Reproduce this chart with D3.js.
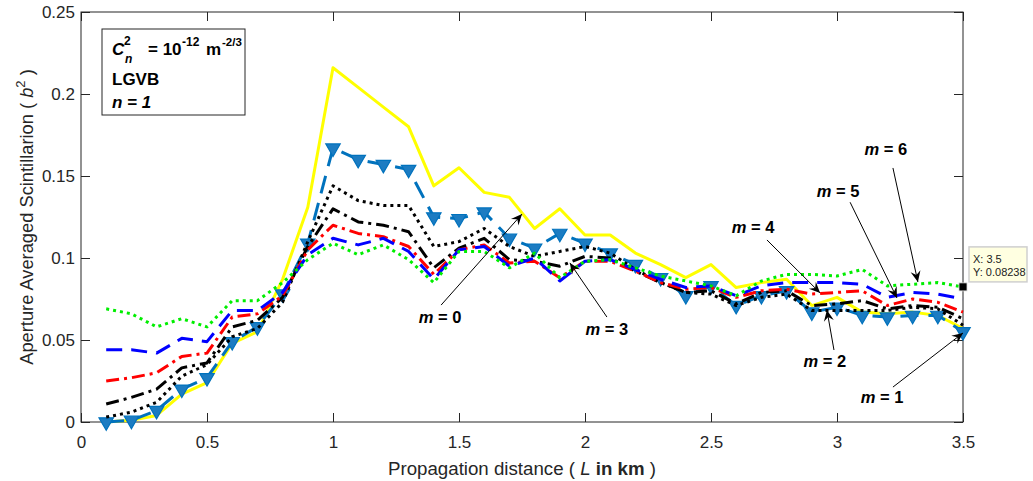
<!DOCTYPE html>
<html>
<head>
<meta charset="utf-8">
<script src="https://cdn.jsdelivr.net/npm/d3@7"></script>
<style>
  body { margin: 0; background: #fff; }
  svg { display: block; font-family: "Liberation Sans", Arial, Helvetica, sans-serif; }
</style>
</head>
<body>
<main></main>
<script>
// propagation distance L (km)
const distances = [0.1, 0.2, 0.3, 0.4, 0.5, 0.6, 0.7, 0.8, 0.9, 1.0,
  1.1, 1.2, 1.3, 1.4, 1.5, 1.6, 1.7, 1.8, 1.9, 2.0,
  2.1, 2.2, 2.3, 2.4, 2.5, 2.6, 2.7, 2.8, 2.9, 3.0,
  3.1, 3.2, 3.3, 3.4, 3.5];

// aperture averaged scintillation per mode m
const m0 = [0.000, 0.001, 0.004, 0.017, 0.024, 0.048, 0.055, 0.087, 0.131, 0.216,
  0.204, 0.192, 0.180, 0.144, 0.155, 0.140, 0.137, 0.118, 0.130, 0.114,
  0.114, 0.103, 0.096, 0.088, 0.096, 0.082, 0.085, 0.087, 0.071, 0.076,
  0.067, 0.066, 0.067, 0.065, 0.057];
const m1 = [0.000, 0.001, 0.007, 0.020, 0.027, 0.049, 0.058, 0.078, 0.109, 0.167,
  0.160, 0.157, 0.154, 0.125, 0.124, 0.128, 0.112, 0.106, 0.115, 0.109,
  0.103, 0.096, 0.088, 0.077, 0.083, 0.071, 0.077, 0.080, 0.067, 0.070,
  0.065, 0.064, 0.065, 0.065, 0.055];
const m2 = [0.003, 0.006, 0.012, 0.028, 0.035, 0.052, 0.057, 0.073, 0.110, 0.144,
  0.135, 0.132, 0.132, 0.107, 0.110, 0.118, 0.107, 0.101, 0.104, 0.107,
  0.103, 0.093, 0.085, 0.079, 0.078, 0.071, 0.076, 0.078, 0.068, 0.068,
  0.068, 0.068, 0.070, 0.069, 0.059];
const m3 = [0.011, 0.015, 0.020, 0.033, 0.036, 0.058, 0.062, 0.076, 0.107, 0.130,
  0.122, 0.120, 0.116, 0.094, 0.106, 0.112, 0.099, 0.098, 0.095, 0.101,
  0.100, 0.092, 0.085, 0.079, 0.080, 0.072, 0.079, 0.080, 0.071, 0.072,
  0.074, 0.069, 0.071, 0.070, 0.063];
const m4 = [0.025, 0.027, 0.030, 0.040, 0.042, 0.064, 0.066, 0.077, 0.105, 0.120,
  0.115, 0.113, 0.107, 0.090, 0.105, 0.108, 0.097, 0.098, 0.088, 0.098,
  0.098, 0.092, 0.085, 0.081, 0.082, 0.076, 0.080, 0.081, 0.078, 0.079,
  0.080, 0.071, 0.075, 0.073, 0.067];
const m5 = [0.044, 0.044, 0.042, 0.051, 0.049, 0.068, 0.068, 0.079, 0.102, 0.112,
  0.108, 0.112, 0.104, 0.087, 0.105, 0.107, 0.095, 0.100, 0.086, 0.098,
  0.099, 0.093, 0.087, 0.082, 0.083, 0.077, 0.083, 0.085, 0.085, 0.085,
  0.084, 0.076, 0.079, 0.078, 0.075];
const m6 = [0.069, 0.066, 0.058, 0.063, 0.058, 0.074, 0.074, 0.085, 0.099, 0.109,
  0.102, 0.108, 0.099, 0.085, 0.104, 0.104, 0.094, 0.103, 0.088, 0.098,
  0.099, 0.094, 0.089, 0.086, 0.083, 0.077, 0.086, 0.090, 0.090, 0.089,
  0.093, 0.083, 0.084, 0.085, 0.08238];

const seriesValues = [m0, m1, m2, m3, m4, m5, m6];

const xTicks = [0, 0.5, 1, 1.5, 2, 2.5, 3, 3.5];
const yTicks = [0, 0.05, 0.1, 0.15, 0.2, 0.25];
const xTickLabels = ['0', '0.5', '1', '1.5', '2', '2.5', '3', '3.5'];
const yTickLabels = ['0', '0.05', '0.1', '0.15', '0.2', '0.25'];

// text arrows: tail -> tip and label anchor, in data units
const arrowMode = [0, 1, 2, 3, 4, 5, 6];
const arrowTip = [[1.750, 0.1268], [3.500, 0.0543], [2.960, 0.0683], [1.940, 0.0970],
  [2.933, 0.0787], [3.238, 0.0756], [3.321, 0.0854]];
const arrowTail = [[1.429, 0.0713], [3.222, 0.0213], [2.988, 0.0439], [2.087, 0.0640],
  [2.722, 0.1110], [3.052, 0.1340], [3.222, 0.1549]];
const arrowLabel = [[1.425, 0.0604], [3.179, 0.0116], [2.952, 0.0335], [2.087, 0.0530],
  [2.667, 0.1152], [3.004, 0.1372], [3.194, 0.1628]];

// data tip
const tipX = 3.5;
const tipY = 0.08238;

const styles = [
  { color: '#ffff00', dash: null },
  { color: '#0072bd', dash: '18,10', marker: true },
  { color: '#000000', dash: '3,4' },
  { color: '#000000', dash: '13,5,3,5' },
  { color: '#ff0000', dash: '13,5,3,5' },
  { color: '#0000ff', dash: '16,9' },
  { color: '#00ee00', dash: '3,4' }
];

const W = 1033;
const H = 481;
const margin = { top: 12, right: 70, bottom: 59, left: 81 };
const width = W - margin.left - margin.right;
const height = H - margin.top - margin.bottom;
const axisColor = '#262626';

const $svg = d3.select('main').append('svg')
  .attr('width', W)
  .attr('height', H);

const $g = $svg.append('g')
  .attr('transform', `translate(${margin.left}, ${margin.top})`);

const scaleX = d3.scaleLinear().domain([0, 3.5]).range([0, width]);
const scaleY = d3.scaleLinear().domain([0, 0.25]).range([height, 0]);

// axes, ticks inside on all four sides
function styleAxis($a) {
  $a.select('.domain').remove();
  $a.selectAll('line').attr('stroke', axisColor);
  $a.selectAll('text')
    .attr('fill', axisColor)
    .style('font-size', '17px')
    .style('font-family', '"Liberation Sans", Arial, sans-serif');
}

const $axisX = $g.append('g').attr('transform', `translate(0, ${height})`)
  .call(d3.axisBottom(scaleX).tickValues(xTicks)
    .tickFormat((d, i) => xTickLabels[i]).tickSizeInner(-9).tickSizeOuter(0).tickPadding(14));
styleAxis($axisX);

const $axisY = $g.append('g')
  .call(d3.axisLeft(scaleY).tickValues(yTicks)
    .tickFormat((d, i) => yTickLabels[i]).tickSizeInner(-9).tickSizeOuter(0).tickPadding(6));
styleAxis($axisY);

const $axisTop = $g.append('g')
  .call(d3.axisTop(scaleX).tickValues(xTicks).tickFormat('').tickSizeInner(-9).tickSizeOuter(0));
styleAxis($axisTop);

const $axisRight = $g.append('g').attr('transform', `translate(${width}, 0)`)
  .call(d3.axisRight(scaleY).tickValues(yTicks).tickFormat('').tickSizeInner(-9).tickSizeOuter(0));
styleAxis($axisRight);

$g.append('rect')
  .attr('width', width)
  .attr('height', height)
  .attr('fill', 'none')
  .attr('stroke', axisColor)
  .attr('stroke-width', 1);

// curves
const line = d3.line()
  .x((d, i) => scaleX(distances[i]))
  .y(d => scaleY(d));

const $vis = $g.append('g').attr('class', 'g-vis');

seriesValues.forEach((vals, k) => {
  const st = styles[k];
  $vis.append('path')
    .datum(vals)
    .attr('d', line)
    .attr('fill', 'none')
    .attr('stroke', st.color)
    .attr('stroke-width', 3)
    .attr('stroke-linejoin', 'round')
    .attr('stroke-dasharray', st.dash);

  if (st.marker) {
    const tri = d3.symbol().type(d3.symbolTriangle).size(90);
    $vis.selectAll('.g-marker')
      .data(vals)
      .enter()
      .append('path')
      .attr('class', 'g-marker')
      .attr('d', tri)
      .attr('transform', (d, i) => `translate(${scaleX(distances[i])}, ${scaleY(d)}) rotate(180)`)
      .attr('fill', '#1c7cc2')
      .attr('stroke', st.color)
      .attr('stroke-width', 1.2);
  }
});

// annotations
const $ann = $g.append('g').attr('class', 'g-annotations');

arrowMode.forEach((m, i) => {
  const x1 = scaleX(arrowTail[i][0]);
  const y1 = scaleY(arrowTail[i][1]);
  const x2 = scaleX(arrowTip[i][0]);
  const y2 = scaleY(arrowTip[i][1]);
  const ang = Math.atan2(y2 - y1, x2 - x1) * 180 / Math.PI;

  $ann.append('line')
    .attr('x1', x1).attr('y1', y1)
    .attr('x2', x2).attr('y2', y2)
    .attr('stroke', '#000')
    .attr('stroke-width', 1);

  $ann.append('path')
    .attr('d', 'M0,0 L-11,-5 L-7,0 L-11,5 Z')
    .attr('transform', `translate(${x2}, ${y2}) rotate(${ang})`)
    .attr('fill', '#000');

  const $t = $ann.append('text')
    .attr('x', scaleX(arrowLabel[i][0]))
    .attr('y', scaleY(arrowLabel[i][1]))
    .attr('text-anchor', 'middle')
    .attr('font-size', 16.5)
    .attr('font-weight', 'bold')
    .attr('fill', '#000');
  $t.append('tspan').attr('font-style', 'italic').text('m');
  $t.append('tspan').text(` = ${m}`);
});

// info box
const $box = $g.append('g').attr('transform', 'translate(21, 17)');
$box.append('rect')
  .attr('width', 143)
  .attr('height', 86)
  .attr('fill', '#fff')
  .attr('stroke', axisColor)
  .attr('stroke-width', 1);

const $l1 = $box.append('text')
  .attr('y', 26)
  .attr('font-size', 17)
  .attr('font-weight', 'bold')
  .attr('fill', '#000');
$l1.append('tspan').attr('x', 10).attr('font-style', 'italic').text('C');
$l1.append('tspan').attr('x', 22).attr('dy', -10).attr('font-size', 12).text('2');
$l1.append('tspan').attr('x', 23).attr('dy', 18).attr('font-size', 12).attr('font-style', 'italic').text('n');
$l1.append('tspan').attr('x', 46).attr('dy', -8).text('= 10');
$l1.append('tspan').attr('x', 80).attr('dy', -9).attr('font-size', 12).text('-12');
$l1.append('tspan').attr('x', 104).attr('dy', 9).text('m');
$l1.append('tspan').attr('x', 120).attr('dy', -9).attr('font-size', 11.5).text('-2/3');

$box.append('text')
  .attr('x', 10).attr('y', 56)
  .attr('font-size', 17)
  .attr('font-weight', 'bold')
  .text('LGVB');

$box.append('text')
  .attr('x', 10).attr('y', 79)
  .attr('font-size', 17)
  .attr('font-weight', 'bold')
  .attr('font-style', 'italic')
  .text('n = 1');

// data tip
const tx = scaleX(tipX);
const ty = scaleY(tipY);
const $tip = $g.append('g');
$tip.append('rect')
  .attr('x', tx + 6).attr('y', ty - 40)
  .attr('width', 58).attr('height', 35)
  .attr('fill', '#ffffe1')
  .attr('stroke', '#cfcfcf')
  .attr('stroke-width', 1.5);
$tip.append('text')
  .attr('x', tx + 10).attr('y', ty - 24)
  .attr('font-size', 11)
  .attr('fill', '#222')
  .text(`X: ${tipX}`);
$tip.append('text')
  .attr('x', tx + 10).attr('y', ty - 11)
  .attr('font-size', 11)
  .attr('fill', '#222')
  .text(`Y: ${tipY}`);
$tip.append('rect')
  .attr('x', tx - 4).attr('y', ty - 4)
  .attr('width', 8).attr('height', 8)
  .attr('fill', '#000')
  .attr('stroke', '#ddd')
  .attr('stroke-width', 0.8);

// axis labels
const $xl = $svg.append('text')
  .attr('x', margin.left + width / 2)
  .attr('y', 475)
  .attr('text-anchor', 'middle')
  .attr('font-size', 18.7)
  .attr('fill', axisColor);
$xl.append('tspan').text('Propagation distance ( ');
$xl.append('tspan').attr('font-style', 'italic').text('L');
$xl.append('tspan').attr('font-weight', 'bold').text(' in km');
$xl.append('tspan').text(' )');

const $yl = $svg.append('text')
  .attr('transform', `translate(33, ${margin.top + height / 2}) rotate(-90)`)
  .attr('text-anchor', 'middle')
  .attr('font-size', 18.3)
  .attr('fill', axisColor);
$yl.append('tspan').text('Aperture Averaged Scintillarion ( ');
$yl.append('tspan').attr('font-style', 'italic').text('b');
$yl.append('tspan').attr('dy', -8).attr('font-size', 13).text('2');
$yl.append('tspan').attr('dy', 8).text(' )');
</script>
</body>
</html>
